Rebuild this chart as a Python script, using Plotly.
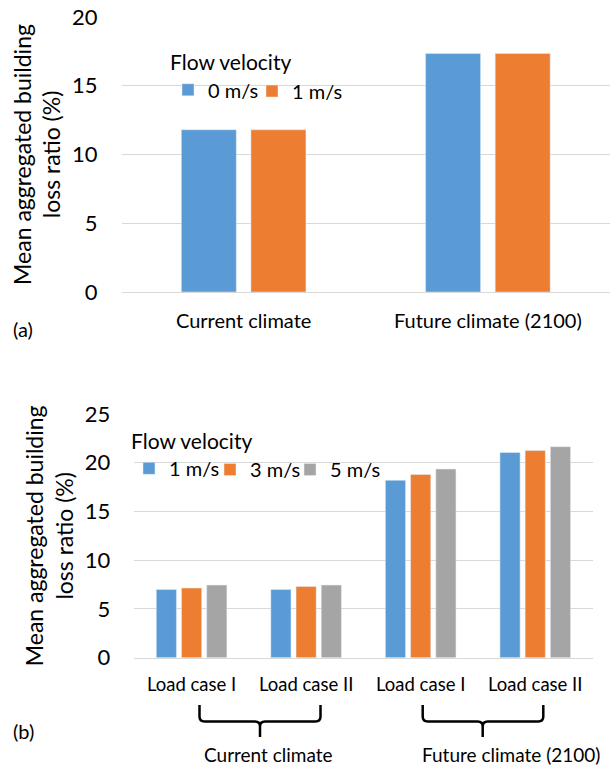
import plotly.graph_objects as go

# ---------------- data ----------------
top_categories = ["Current climate", "Future climate (2100)"]
top_0ms = [11.8, 17.35]
top_1ms = [11.8, 17.35]

bottom_labels = ["Load case I", "Load case II", "Load case I", "Load case II"]
bottom_1ms = [7.0, 7.0, 18.2, 21.05]
bottom_3ms = [7.15, 7.3, 18.8, 21.25]
bottom_5ms = [7.45, 7.45, 19.35, 21.65]

group_labels = ["Current climate", "Future climate (2100)"]
top_ticks = [0, 5, 10, 15, 20]
bottom_ticks = [0, 5, 10, 15, 20, 25]

# ---------------- style ----------------
W, H = 611, 767
BLUE, ORANGE, GRAY = "#5B9BD5", "#ED7D31", "#A5A5A5"
GRID = "#D9D9D9"
FONT = "Lato"
TXT = "#000000"


def px(x):
    return x / W


def py(y):
    return 1 - y / H


fig = go.Figure()

fig.add_trace(go.Bar(x=top_categories, y=top_0ms, name="0 m/s", marker_color=BLUE,
                     xaxis="x", yaxis="y", legend="legend"))
fig.add_trace(go.Bar(x=top_categories, y=top_1ms, name="1 m/s", marker_color=ORANGE,
                     xaxis="x", yaxis="y", legend="legend3"))

xb = list(range(len(bottom_labels)))
fig.add_trace(go.Bar(x=xb, y=bottom_1ms, name="1 m/s", marker_color=BLUE,
                     xaxis="x2", yaxis="y2", legend="legend2"))
fig.add_trace(go.Bar(x=xb, y=bottom_3ms, name="3 m/s", marker_color=ORANGE,
                     xaxis="x2", yaxis="y2", legend="legend4"))
fig.add_trace(go.Bar(x=xb, y=bottom_5ms, name="5 m/s", marker_color=GRAY,
                     xaxis="x2", yaxis="y2", legend="legend5"))


def f(size):
    return dict(family=FONT, size=size, color=TXT)


ytitle = "Mean aggregated building<br>loss ratio (%)"

common_x = dict(showgrid=False, zeroline=False, showline=True, linecolor=GRID, linewidth=1,
                ticks="", automargin=False, fixedrange=True)
common_y = dict(showgrid=True, gridcolor=GRID, gridwidth=1, zeroline=False, showline=False,
                ticks="", tickfont=f(22), automargin=False, fixedrange=True,
                ticklabeloverflow="allow",
                title=dict(text=ytitle, font=f(23), standoff=4))

legend_common = dict(orientation="h", xanchor="left", font=f(20), bgcolor="rgba(0,0,0,0)",
                     itemclick=False, itemdoubleclick=False)


def titled_legend(x, item_y):
    return dict(x=px(x - 15), y=py(item_y - 48), yanchor="top",
                title=dict(text="Flow velocity", side="top", font=f(21)), **legend_common)


def plain_legend(x, item_y):
    return dict(x=px(x - 15), y=py(item_y), yanchor="middle", **legend_common)


TOP_ITEM_Y = 91
BOT_ITEM_Y = 469.5

fig.update_layout(
    width=W, height=H,
    margin=dict(l=0, r=0, t=0, b=0),
    paper_bgcolor="white", plot_bgcolor="white",
    font=f(20),
    barmode="group",
    bargap=0.43, bargroupgap=0.21,
    xaxis=dict(domain=[px(121.5), px(610)], anchor="y", ticklabelstandoff=11, tickfont=f(20),
               **common_x),
    yaxis=dict(domain=[py(292), py(17)], anchor="x", range=[0, 20], tickvals=top_ticks,
               ticklabelstandoff=23, **common_y),
    xaxis2=dict(domain=[px(134.3), px(592.5)], anchor="y2", tickvals=xb, ticktext=bottom_labels,
                range=[-0.5, 3.5], ticklabelstandoff=10, tickfont=f(18.5), **common_x),
    yaxis2=dict(domain=[py(657.7), py(414)], anchor="x2", range=[0, 25], tickvals=bottom_ticks,
                ticklabelstandoff=23, **common_y),
    legend=titled_legend(183, TOP_ITEM_Y),
    legend3=plain_legend(267, TOP_ITEM_Y),
    legend2=titled_legend(144, BOT_ITEM_Y),
    legend4=plain_legend(225, BOT_ITEM_Y),
    legend5=plain_legend(305, BOT_ITEM_Y),
    showlegend=True,
)

# plotly shares one bargap for all subplots -> give the bottom bars their own width/offset
slot = 0.22
bw = slot * 0.8
for i, tr in enumerate(fig.data[2:]):
    tr.width = bw
    tr.offset = (i - 1) * slot - bw / 2

# panel labels
fig.add_annotation(text="(a)", x=px(11), y=py(329), xref="paper", yref="paper",
                   xanchor="left", yanchor="middle", showarrow=False, font=f(20))
fig.add_annotation(text="(b)", x=px(11), y=py(731), xref="paper", yref="paper",
                   xanchor="left", yanchor="middle", showarrow=False, font=f(20))

# group labels under braces
brace_specs = [(199.5, 320.5, 260), (422.7, 543.3, 482.7)]
label_centers = [268.7, 510.7]
for txt, cx in zip(group_labels, label_centers):
    fig.add_annotation(text=txt, x=px(cx), y=py(754), xref="paper", yref="paper",
                       xanchor="center", yanchor="middle", showarrow=False, font=f(19))


def brace_path(x0, x1, xc, ytop=705.0, ymid=721.5, ytip=737.0, r=5.0):
    pts = [
        f"M{px(x0)},{py(ytop)}",
        f"L{px(x0)},{py(ymid - r)}",
        f"Q{px(x0)},{py(ymid)} {px(x0 + r)},{py(ymid)}",
        f"L{px(xc - r)},{py(ymid)}",
        f"Q{px(xc)},{py(ymid)} {px(xc)},{py(ymid + r)}",
        f"L{px(xc)},{py(ytip)}",
        f"M{px(xc)},{py(ymid + r)}",
        f"Q{px(xc)},{py(ymid)} {px(xc + r)},{py(ymid)}",
        f"L{px(x1 - r)},{py(ymid)}",
        f"Q{px(x1)},{py(ymid)} {px(x1)},{py(ymid - r)}",
        f"L{px(x1)},{py(ytop)}",
    ]
    return " ".join(pts)


for x0, x1, xc in brace_specs:
    fig.add_shape(type="path", path=brace_path(x0, x1, xc), xref="paper", yref="paper",
                  line=dict(color="black", width=2.5))

# remove the default 8px page margin so the 611x767 figure fills the window exactly
fig.write_html("out.html", config={"displayModeBar": False},
               post_script="document.body.style.margin='0';")
